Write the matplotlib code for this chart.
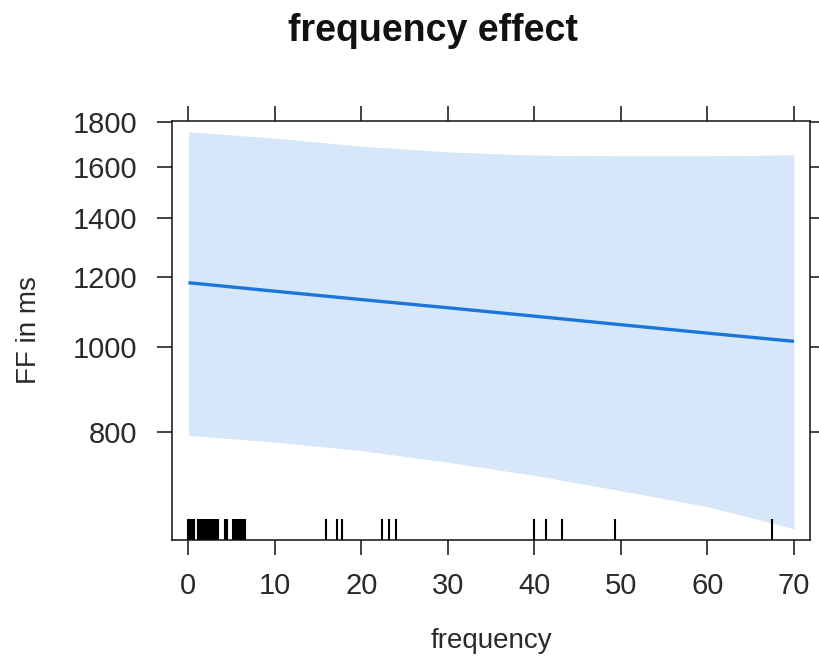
import matplotlib
matplotlib.use("Agg")
import matplotlib.pyplot as plt

# effect curve (frequency -> FF in ms)
freq = [0, 10, 20, 30, 40, 50, 60, 70]
fit = [1183, 1157, 1132, 1108, 1084, 1060, 1037, 1015]
upper = [1755, 1726, 1690, 1665, 1651, 1648, 1648, 1652]
lower = [794, 780, 763, 740, 715, 687, 659, 622]

# rug of observed frequencies
rug = [0.0, 0.15, 0.3, 0.45, 0.6, 0.7,
       1.1, 1.25, 1.4, 1.55, 1.7, 1.85, 2.0, 2.15, 2.3, 2.45, 2.6, 2.75,
       2.9, 3.05, 3.2, 3.35, 3.45,
       4.2, 4.35, 4.5,
       5.2, 5.35, 5.5, 5.65, 5.8, 5.95, 6.1, 6.25, 6.4, 6.5,
       15.9, 17.2, 17.7, 22.4, 23.2, 24.0,
       39.9, 41.3, 43.2, 49.3, 67.5]

yticks = [800, 1000, 1200, 1400, 1600, 1800]
xticks = [0, 10, 20, 30, 40, 50, 60, 70]

plt.rcParams['font.family'] = ['Liberation Sans', 'DejaVu Sans']

fig = plt.figure(figsize=(8.2, 6.62), dpi=100)
ax = fig.add_axes([172 / 820, 1 - 540 / 662, 638 / 820, 419 / 662])

ax.fill_between(freq, lower, upper, color='#d6e7fa', lw=0)
ax.plot(freq, fit, color='#1c75d8', lw=2.4, solid_capstyle='butt')
ax.vlines(rug, 0, 0.05, transform=ax.get_xaxis_transform(),
          color='black', lw=1.5)

ax.set_yscale('log')
ax.set_ylim(604, 1805)
ax.set_xlim(-1.9, 71.85)
ax.set_yticks(yticks)
ax.set_yticklabels([str(v) for v in yticks])
ax.minorticks_off()
ax.set_xticks(xticks)

for s in ax.spines.values():
    s.set_linewidth(1.1)
    s.set_color('#111111')

ax.tick_params(axis='both', which='major', direction='out', length=11,
               width=1.1, top=True, right=True, labelsize=21,
               labelcolor='#2a2a2a', color='#111111')
ax.tick_params(axis='y', pad=14)
ax.tick_params(axis='x', pad=12)

ax.set_xlabel('frequency', fontsize=20, color='#2a2a2a', labelpad=20)
ax.set_ylabel('FF in ms', fontsize=20, color='#2a2a2a', labelpad=22)

fig.text(433 / 820, 1 - 31 / 662, 'frequency effect', ha='center',
         va='center', fontsize=27, fontweight='bold', color='#111111')

fig.savefig('out.png', dpi=100)
